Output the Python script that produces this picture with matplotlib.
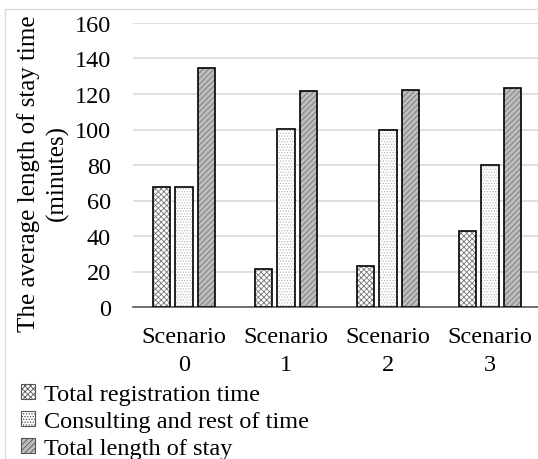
import matplotlib
matplotlib.use("Agg")
import matplotlib.pyplot as plt
from matplotlib.patches import Rectangle
import numpy as np

categories = ["Scenario\n0", "Scenario\n1", "Scenario\n2", "Scenario\n3"]
series_names = ["Total registration time", "Consulting and rest of time", "Total length of stay"]
registration = [67.4, 21.2, 22.9, 43.0]
consulting = [67.4, 100.1, 99.5, 80.2]
total_stay = [134.8, 121.5, 122.3, 123.2]
yticks = [0, 20, 40, 60, 80, 100, 120, 140, 160]

plt.rcParams['font.family'] = ['Liberation Serif', 'DejaVu Serif']
plt.rcParams['hatch.linewidth'] = 0.6

FS = 17.5
fig = plt.figure(figsize=(5.38, 4.6), dpi=100)
# light chart-area border
fig.patches.append(Rectangle((5/538, -0.1), 1.2, 1 - 10/460 + 0.1, transform=fig.transFigure,
                             fill=False, edgecolor="#d9d9d9", linewidth=1.0, zorder=0))
ax = fig.add_axes([133/538, 1 - 308/460, (538-133)/538, (308-24)/460])

x = np.arange(len(categories))
w = 0.172
off = 0.222
styles = [
    dict(facecolor="white", hatch="xxxxxx", edgecolor="#777777"),
    dict(facecolor="white", hatch="......", edgecolor="#bbbbbb"),
    dict(facecolor="#bdbdbd", hatch="//////", edgecolor="#777777"),
]
data = [registration, consulting, total_stay]
handles = []
for i, (vals, st) in enumerate(zip(data, styles)):
    bars = ax.bar(x + (i - 1) * off, vals, w, facecolor=st["facecolor"], hatch=st["hatch"],
                  edgecolor=st["edgecolor"], linewidth=0, zorder=3, label=series_names[i])
    ax.bar(x + (i - 1) * off, vals, w, facecolor="none", edgecolor="black", linewidth=1.2, zorder=4)
    handles.append(bars)

ax.set_ylim(0, 160)
ax.set_xlim(-0.5, 3.47)
ax.set_yticks(yticks)
ax.set_yticklabels([str(t) for t in yticks], fontsize=FS)
ax.set_xticks(x)
ax.set_xticklabels(categories, fontsize=FS, linespacing=1.43)
ax.tick_params(axis='y', length=0, pad=16)
ax.tick_params(axis='x', length=0, pad=14)
ax.yaxis.grid(True, color="#d9d9d9", linewidth=1.2, zorder=0)
for s in ["left", "right", "top"]:
    ax.spines[s].set_visible(False)
ax.spines["bottom"].set_color("#595959")
ax.spines["bottom"].set_linewidth(1.2)
ax.set_ylabel("The average length of stay time\n(minutes)", fontsize=FS + 0.5, linespacing=1.32,
              va="center")
ax.yaxis.set_label_coords((43 - 133) / 405, (308 - 173.5) / 284)

leg = fig.legend(handles=handles, labels=series_names, loc="upper left",
                 bbox_to_anchor=(9/538, 1 - 373/460), frameon=False, fontsize=FS,
                 handlelength=0.55, handleheight=0.55, handletextpad=0.4,
                 labelspacing=0.25, borderpad=0)
for p in leg.get_patches():
    p.set_edgecolor("#555555")
    p.set_linewidth(0.8)

fig.savefig("out.png", dpi=100)
